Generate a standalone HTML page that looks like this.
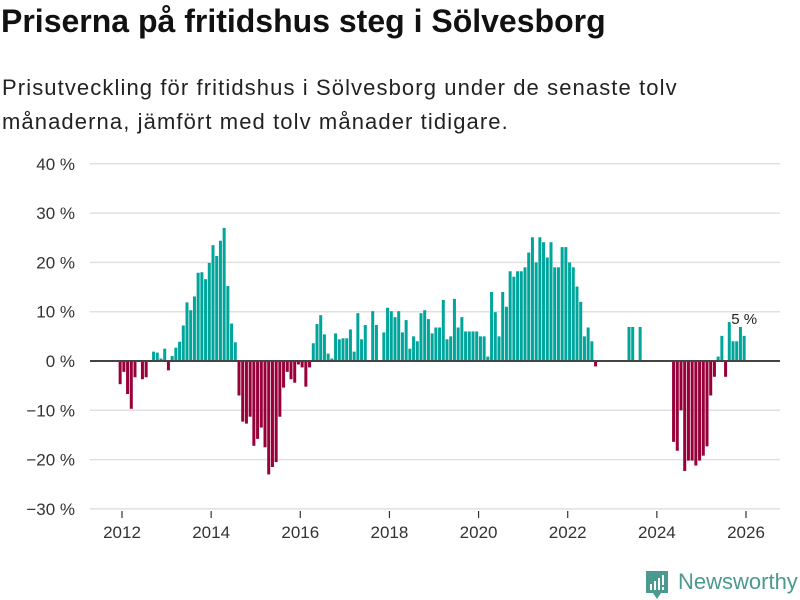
<!DOCTYPE html>
<html><head><meta charset="utf-8"><style>
body{margin:0;background:#fff;font-family:"Liberation Sans",sans-serif;}
#wrap{position:relative;width:800px;height:600px;overflow:hidden;}
h1{position:absolute;left:1px;top:3px;margin:0;font-size:32px;font-weight:bold;color:#111;letter-spacing:0px}
p.sub{position:absolute;left:2px;top:71px;margin:0;font-size:22px;line-height:34px;color:#222;width:795px;letter-spacing:1.1px}
svg{position:absolute;left:0;top:0}
</style></head><body><div id="wrap">
<h1>Priserna på fritidshus steg i Sölvesborg</h1>
<p class="sub">Prisutveckling för fritidshus i Sölvesborg under de senaste tolv<br>månaderna, jämfört med tolv månader tidigare.</p>
<svg id="chart" width="800" height="600"></svg>
<div style="position:absolute;left:645px;top:570px;width:150px;height:30px">
<svg width="26" height="30" style="position:absolute;left:0;top:0"><path d="M1 1h22v22h-7l-4 6-4-6H1z" fill="#4a9a8f"/><rect x="5" y="14" width="2" height="6" fill="#fff"/><rect x="9" y="11" width="2" height="9" fill="#fff"/><rect x="13" y="8" width="2" height="12" fill="#fff"/><rect x="17" y="5" width="2" height="10" fill="#fff"/><rect x="17" y="17" width="2" height="3" fill="#fff"/></svg>
<span style="position:absolute;left:33px;top:-1px;font-size:22px;color:#4a9a8f;letter-spacing:0px">Newsworthy</span></div>
</div>
<script>
const startLabel = "2011-12";
const values = [
-4.7,-2.2,-6.7,-9.7,-3.3,0,-3.7,-3.3,0,1.9,1.7,0.5,2.5,-1.9,1,2.7,3.9,7.2,11.9,10.3,13.1,17.9,18,16.6,19.9,23.5,21.3,24.4,27,15.2,7.6,3.8,-7,-12.3,-12.7,-11.3,-17.2,-15.8,-13.5,-17.5,-23,-21.5,-20.5,-11.3,-5.4,-2.2,-3.7,-4.4,-0.7,-1.3,-5.2,-1.3,
3.6,7.5,9.3,5.4,1.5,0.5,5.6,4.4,4.6,4.6,6.4,1.9,9.7,4.4,7.3,0,10.1,7.3,0,5.8,10.8,10.1,8.9,10.1,5.8,8.3,2.5,5,4,9.7,10.3,8.5,5.6,6.8,6.8,12.4,4.4,5,12.6,6.8,8.9,6,6,6,6,5,5,0.9,14,9.9,5,14,11,18.2,17.1,18.2,18.2,19,22,25.1,20,25.1,24.1,21,24.1,19,19,23.1,23.1,20,19,15.1,12,5,6.8,4,-1.1,
null,null,null,null,null,null,null,null,6.9,6.9,null,6.9,null,null,null,null,null,null,null,null,
-16.4,-18.2,-10,-22.3,-20.2,-20.2,-21.2,-20.2,-19.2,-17.3,-7,-3.2,0.9,5.1,-3.2,7.9,4,4,6.9,5.1];
const yTicks = [40,30,20,10,0,-10,-20,-30];
const xTicks = [2012,2014,2016,2018,2020,2022,2024,2026];
const lastLabel = "5 %";

const NS="http://www.w3.org/2000/svg";
const svg=document.getElementById('chart');
const x0=122, x1=746, perYear=(x1-x0)/14, perMonth=perYear/12;
const xYear=y=>x0+(y-2012)*perYear;
const xMonth=i=>x0+(i-1)*perMonth; // index 0 = Dec 2011
const yS=v=>361-v*4.93;
function mk(t,a){const e=document.createElementNS(NS,t);for(const k in a)e.setAttribute(k,a[k]);svg.appendChild(e);return e;}
yTicks.forEach(v=>{
 const g=mk('line',{x1:90,x2:780,y1:yS(v),y2:yS(v),stroke:'#e0e0e0','stroke-width':1.5});
 
 
 const t=mk('text',{x:75,y:yS(v)+6,'text-anchor':'end','font-size':17,fill:'#333','font-family':'Liberation Sans, sans-serif'});
 t.textContent=(v<0?'\u2212'+(-v):v)+' %';
 
 
});
xTicks.forEach(y=>{
 const l=mk('line',{x1:xYear(y),x2:xYear(y),y1:511,y2:518,stroke:'#333','stroke-width':1.2});
 
 
 const t=mk('text',{x:xYear(y),y:538,'text-anchor':'middle','font-size':17,fill:'#333','font-family':'Liberation Sans, sans-serif'});
 t.textContent=y;
 
 
});
let lastIdx=0;
values.forEach((v,i)=>{
 if(v===null)return;
 lastIdx=i;
 const cx=xMonth(i)+perMonth/2;
 const top=Math.min(yS(v),yS(0)), h=Math.abs(yS(v)-yS(0));
 const r=mk('rect',{x:cx-1.5,y:top,width:3,height:Math.max(h,0.5),fill:v>=0?'#00a59b':'#98003a'});
 
 
});
const z=mk('line',{x1:90,x2:780,y1:yS(0),y2:yS(0),stroke:'#444','stroke-width':2});


const lb=mk('text',{x:xMonth(lastIdx)+perMonth/2,y:yS(values[lastIdx])-12,'text-anchor':'middle','font-size':15,fill:'#222','font-family':'Liberation Sans, sans-serif',stroke:'#fff','stroke-width':3,'paint-order':'stroke'});
lb.textContent=lastLabel;


</script></body></html>
